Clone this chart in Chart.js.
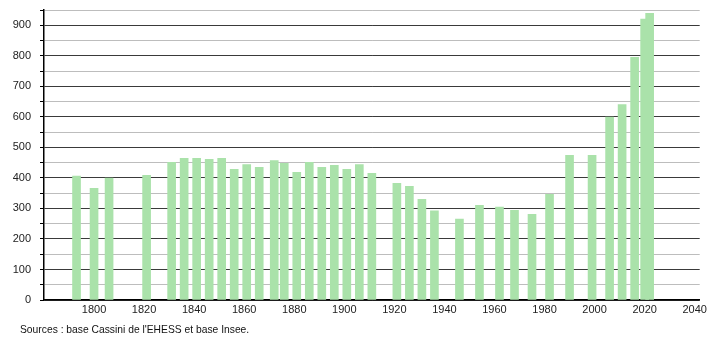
<!DOCTYPE html>
<html>
<head>
<meta charset="utf-8">
<script src="https://cdn.jsdelivr.net/npm/chart.js@4/dist/chart.umd.min.js"></script>
<style>
  html, body { margin: 0; padding: 0; background: #fff; }
  #wrap { width: 710px; height: 340px; }
</style>
</head>
<body>
<div id="wrap"><canvas id="myChart" width="710" height="340"></canvas></div>
<script>
var years = [1793, 1800, 1806, 1821, 1831, 1836, 1841, 1846, 1851, 1856, 1861, 1866,
             1872, 1876, 1881, 1886, 1891, 1896, 1901, 1906, 1911, 1921, 1926, 1931,
             1936, 1946, 1954, 1962, 1968, 1975, 1982, 1990, 1999, 2006, 2011, 2016,
             2020, 2022];
var population = [406, 366, 399, 408, 451, 464, 464, 461, 464, 428, 444, 435,
                  457, 448, 418, 451, 435, 441, 428, 444, 415, 382, 372, 330,
                  292, 265, 310, 304, 294, 281, 346, 474, 474, 599, 640, 795,
                  920, 939];
var xTicks = [1800, 1820, 1840, 1860, 1880, 1900, 1920, 1940, 1960, 1980, 2000, 2020, 2040];
var yTicks = [0, 50, 100, 150, 200, 250, 300, 350, 400, 450, 500,
              550, 600, 650, 700, 750, 800, 850, 900, 950];
var sourceText = "Sources : base Cassini de l'EHESS et base Insee.";

var points = years.map(function (y, i) { return { x: y, y: population[i] }; });

// major lines every 100, light ones in between
function gridColour(v) {
    return v % 100 === 0 ? "#3a3a3a" : "#bdbdbd";
}

var sourcePlugin = {
    id: "sourceText",
    afterDraw: function (chart) {
        var c = chart.ctx;
        c.save();
        c.font = "10.3px 'Liberation Sans', Arial, sans-serif";
        c.fillStyle = "#111";
        c.textBaseline = "alphabetic";
        c.fillText(sourceText, 20, 333);
        c.restore();
    }
};

var ctx = document.getElementById("myChart").getContext("2d");
var barChart = new Chart(ctx, {
    type: "bar",
    data: {
        datasets: [{
            data: points,
            backgroundColor: "#aae2aa",
            borderWidth: 0,
            barThickness: 8
        }]
    },
    options: {
        responsive: false,
        animation: false,
        layout: { padding: { top: 10, right: 10, bottom: 26, left: 0 } },
        plugins: {
            legend: { display: false },
            tooltip: { enabled: false }
        },
        scales: {
            x: {
                type: "linear",
                offset: false,
                min: 1780,
                max: 2042,
                afterBuildTicks: function (scale) {
                    scale.ticks = xTicks.map(function (v) { return { value: v }; });
                },
                afterFit: function (scale) { scale.height = 14; },
                grid: { display: false, drawTicks: false, offset: false },
                border: { display: true, color: "#000", width: 1.5 },
                ticks: {
                    padding: 3,
                    maxRotation: 0,
                    autoSkip: false,
                    color: "#222",
                    font: { family: "'Liberation Sans', Arial, sans-serif", size: 11 },
                    callback: function (v) { return String(v); }
                }
            },
            y: {
                min: 0,
                max: 950,
                afterBuildTicks: function (scale) {
                    scale.ticks = yTicks.map(function (v) { return { value: v }; });
                },
                afterFit: function (scale) {
                    scale.width = 44;
                    scale.paddingTop = 0;
                    scale.paddingBottom = 0;
                },
                grid: {
                    color: function (c) { return gridColour(yTicks[c.index]); },
                    tickColor: "#000",
                    tickLength: 4,
                    lineWidth: 1
                },
                border: { display: true, color: "#000", width: 1.5 },
                ticks: {
                    autoSkip: false,
                    padding: 9,
                    color: "#222",
                    font: { family: "'Liberation Sans', Arial, sans-serif", size: 11 },
                    callback: function (v) { return v % 100 === 0 ? String(v) : " "; }
                }
            }
        }
    },
    plugins: [sourcePlugin]
});
</script>
</body>
</html>
